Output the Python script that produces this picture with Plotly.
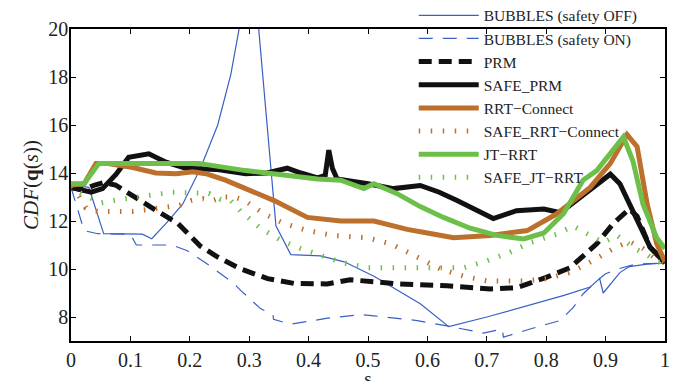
import plotly.graph_objects as go

# ---------------- data ----------------
s_bub_off = [0, 0.03, 0.055, 0.09, 0.12, 0.136, 0.16, 0.188, 0.218, 0.247, 0.269, 0.283, 0.30, 0.316,
             0.325, 0.333, 0.339, 0.345, 0.37, 0.42, 0.46, 0.51, 0.588, 0.636, 0.70, 0.773, 0.83, 0.874,
             0.89, 0.896, 0.924, 0.94, 0.97, 1.0]
v_bub_off = [13.5, 13.4, 11.47, 11.45, 11.45, 11.26, 11.9, 12.7, 14.2, 16.0, 18.1, 20.0, 30.0, 20.0,
             17.4, 15.3, 13.35, 11.8, 10.6, 10.55, 10.3, 9.7, 8.55, 7.6, 8.0, 8.5, 8.9, 9.25,
             9.6, 9.0, 9.85, 10.1, 10.2, 10.25]

s_bub_on = [0, 0.013, 0.022, 0.045, 0.10, 0.11, 0.17, 0.196, 0.23, 0.274, 0.286, 0.319, 0.34, 0.341,
            0.37, 0.432, 0.487, 0.51, 0.583, 0.633, 0.694, 0.726, 0.728, 0.773, 0.823, 0.845, 0.862,
            0.885, 0.9, 0.92, 0.95, 1.0]
v_bub_on = [13.4, 12.3, 11.6, 11.47, 11.45, 11.0, 11.0, 10.76, 10.2, 9.4, 9.1, 8.35, 8.1, 7.9,
            7.7, 7.95, 8.1, 8.05, 7.85, 7.63, 7.33, 7.5, 7.16, 7.5, 7.85, 8.38, 8.96,
            9.5, 9.8, 10.0, 10.2, 10.25]

s_prm = [0, 0.02, 0.04, 0.055, 0.075, 0.106, 0.146, 0.18, 0.218, 0.247, 0.286, 0.331, 0.375, 0.431,
         0.47, 0.52, 0.549, 0.633, 0.706, 0.75, 0.8, 0.84, 0.885, 0.913, 0.94, 0.953, 0.975, 1.0]
v_prm = [13.4, 13.3, 13.5, 13.6, 13.5, 13.0, 12.4, 11.9, 10.95, 10.5, 10.0, 9.6, 9.4, 9.38,
         9.55, 9.45, 9.38, 9.3, 9.17, 9.22, 9.65, 10.05, 11.05, 11.9, 12.5, 12.2, 10.9, 10.3]

s_safe_prm = [0, 0.034, 0.053, 0.076, 0.097, 0.131, 0.16, 0.193, 0.244, 0.294, 0.33, 0.364, 0.387,
              0.415, 0.428, 0.434, 0.44, 0.448, 0.5, 0.543, 0.588, 0.62, 0.65, 0.684, 0.711, 0.75,
              0.796, 0.824, 0.862, 0.908, 0.924, 0.953, 0.975, 1.0]
v_safe_prm = [13.4, 13.2, 13.35, 13.95, 14.65, 14.8, 14.45, 14.2, 14.15, 13.97, 14.0, 14.2, 14.0,
              13.8, 13.9, 14.95, 14.2, 13.75, 13.55, 13.35, 13.48, 13.2, 12.85, 12.43, 12.1, 12.43,
              12.5, 12.35, 13.1, 13.95, 13.55, 12.0, 10.9, 10.25]

s_rrt = [0, 0.022, 0.042, 0.06, 0.104, 0.143, 0.177, 0.205, 0.227, 0.26, 0.289, 0.342, 0.398, 0.454,
         0.51, 0.566, 0.6, 0.644, 0.706, 0.768, 0.818, 0.874, 0.908, 0.936, 0.953, 0.97, 0.986, 1.0]
v_rrt = [13.5, 13.55, 14.4, 14.4, 14.23, 14.0, 13.97, 14.05, 13.97, 13.7, 13.4, 12.85, 12.15, 12.0,
         12.0, 11.65, 11.5, 11.3, 11.4, 11.6, 12.3, 13.4, 14.4, 15.6, 15.1, 12.7, 11.05, 10.3]

s_safe_rrt = [0, 0.013, 0.025, 0.045, 0.104, 0.143, 0.182, 0.202, 0.222, 0.239, 0.255, 0.274, 0.291,
              0.325, 0.358, 0.398, 0.44, 0.499, 0.538, 0.571, 0.622, 0.661, 0.701, 0.762, 0.801,
              0.84, 0.879, 0.913, 0.94, 0.963, 0.986, 1.0]
v_safe_rrt = [13.4, 13.05, 12.55, 12.4, 12.4, 12.5, 12.65, 12.85, 12.93, 12.85, 13.0, 13.0, 12.88,
              12.3, 11.9, 11.6, 11.4, 11.3, 11.05, 10.65, 10.0, 9.7, 9.5, 9.5, 9.6,
              9.85, 10.35, 10.85, 11.15, 10.85, 10.4, 10.25]

s_jt = [0, 0.022, 0.047, 0.07, 0.131, 0.215, 0.294, 0.342, 0.415, 0.454, 0.493, 0.51, 0.549, 0.588,
        0.627, 0.672, 0.717, 0.762, 0.796, 0.829, 0.862, 0.885, 0.908, 0.924, 0.93, 0.946, 0.963,
        0.986, 1.0]
v_jt = [13.55, 13.55, 14.4, 14.4, 14.4, 14.4, 14.1, 13.97, 13.75, 13.7, 13.35, 13.55, 13.14, 12.6,
        12.15, 11.7, 11.4, 11.25, 11.5, 12.3, 13.7, 14.1, 14.8, 15.35, 15.5, 14.5, 12.7,
        11.3, 10.85]

s_safe_jt = [0, 0.013, 0.05, 0.07, 0.113, 0.171, 0.232, 0.252, 0.269, 0.286, 0.319, 0.353, 0.387,
             0.423, 0.459, 0.501, 0.56, 0.622, 0.661, 0.701, 0.739, 0.773, 0.818, 0.845, 0.879,
             0.896, 0.919, 0.936, 0.953, 0.97, 0.986, 1.0]
v_safe_jt = [13.5, 13.2, 12.75, 12.85, 13.0, 13.2, 13.15, 12.9, 12.85, 12.4, 11.7, 11.2, 10.85,
             10.55, 10.25, 10.05, 10.05, 10.0, 10.05, 10.35, 10.7, 11.1, 11.45, 11.8, 11.3,
             11.1, 11.4, 11.1, 10.8, 10.6, 10.3, 10.25]

x_ticks = [0, 0.1, 0.2, 0.3, 0.4, 0.5, 0.6, 0.7, 0.8, 0.9, 1]
y_ticks = [8, 10, 12, 14, 16, 18, 20]

# ---------------- styles ----------------
BLUE = "#3a5fc4"
ORANGE = "#bd6f2c"
GREEN = "#6cc04a"
BLACK = "#111111"
FONT = "Liberation Serif"

series = [
    ("BUBBLES (safety OFF)", s_bub_off, v_bub_off, dict(color=BLUE, width=1.2, dash="solid")),
    ("BUBBLES (safety ON)", s_bub_on, v_bub_on, dict(color=BLUE, width=1.2, dash="14px,10px")),
    ("PRM", s_prm, v_prm, dict(color=BLACK, width=5, dash="13px,7px")),
    ("SAFE_PRM", s_safe_prm, v_safe_prm, dict(color=BLACK, width=5, dash="solid")),
    ("RRT\u2212Connect", s_rrt, v_rrt, dict(color=ORANGE, width=5, dash="solid")),
    ("SAFE_RRT\u2212Connect", s_safe_rrt, v_safe_rrt, dict(color=ORANGE, width=5, dash="1.5px,10.5px")),
    ("JT\u2212RRT", s_jt, v_jt, dict(color=GREEN, width=5, dash="solid")),
    ("SAFE_JT\u2212RRT", s_safe_jt, v_safe_jt, dict(color=GREEN, width=5, dash="1.5px,10.5px")),
]

fig = go.Figure()
for name, xs, ys, line in series:
    fig.add_trace(go.Scatter(x=xs, y=ys, mode="lines", name=name, line=line))

axis_common = dict(
    showline=True, linecolor="black", linewidth=1.5, mirror="ticks",
    ticks="inside", ticklen=5, tickwidth=1, tickcolor="black",
    showgrid=False, zeroline=False,
    tickfont=dict(family=FONT, size=20, color="#222"),
)

# the page body adds an 8px offset; margins compensate so the plot area
# lands at the same place as in the reference
fig.update_layout(
    width=681, height=381,
    margin=dict(l=63, r=24, t=21, b=48, autoexpand=False),
    paper_bgcolor="white", plot_bgcolor="white",
    font=dict(family=FONT, color="#222"),
    xaxis=dict(range=[0, 1], tickvals=x_ticks, ticktext=[str(t) for t in x_ticks],
               title=dict(text="s", font=dict(family=FONT, size=19), standoff=1), **axis_common),
    yaxis=dict(range=[7, 20], tickvals=y_ticks, ticklabelstandoff=-3,
               title=dict(text="<i>CDF</i>(<b>q</b>(<i>s</i>))", font=dict(family=FONT, size=21), standoff=4),
               **axis_common),
    legend=dict(x=0.577, y=1.097, xanchor="left", yanchor="top",
                bgcolor="rgba(0,0,0,0)", borderwidth=0,
                font=dict(family=FONT, size=15.5, color="#222"),
                itemwidth=60, tracegroupgap=0, maxheight=380),
    showlegend=True,
)

fig.write_html("out.html")
